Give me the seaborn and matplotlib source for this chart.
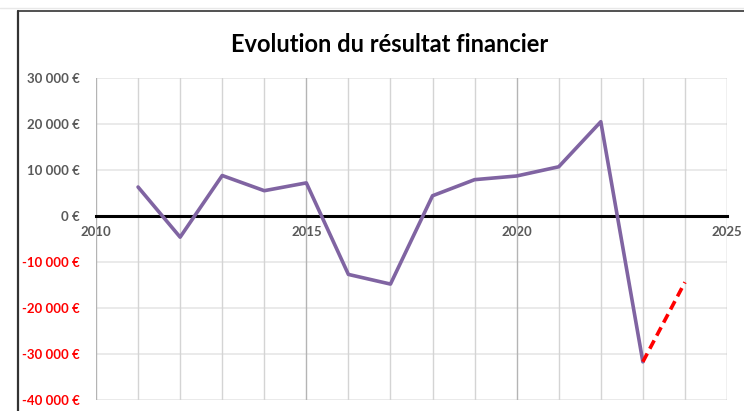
import matplotlib
matplotlib.use("Agg")
import matplotlib.pyplot as plt
import matplotlib.ticker as mticker
from matplotlib.lines import Line2D
import seaborn as sns
import pandas as pd

years = [2011, 2012, 2013, 2014, 2015, 2016, 2017, 2018, 2019, 2020, 2021, 2022, 2023]
resultat = [6300, -4600, 8800, 5500, 7200, -12700, -14800, 4400, 7900, 8700, 10700, 20500, -31700]
proj_years = [2023, 2024]
proj_values = [-31700, -14400]
title = "Evolution du résultat financier"
x_ticks = [2010, 2015, 2020, 2025]
y_ticks = [30000, 20000, 10000, 0, -10000, -20000, -30000, -40000]

sns.set_theme(style="white")
plt.rcParams['font.family'] = ['Lato', 'DejaVu Sans']

fig = plt.figure(figsize=(7.44, 4.11), dpi=100)
ax = fig.add_axes([96/744, 1-400/411, (727-96)/744, (400-78)/411])

df = pd.DataFrame({"annee": years, "valeur": resultat})
dfp = pd.DataFrame({"annee": proj_years, "valeur": proj_values})
sns.lineplot(data=df, x="annee", y="valeur", ax=ax, color="#8064A2", lw=2.6, zorder=4)
sns.lineplot(data=dfp, x="annee", y="valeur", ax=ax, color="#FF0000", lw=2.6,
             linestyle=(0, (2.6, 1.5)), zorder=5)

ax.set_xlim(2010, 2025)
ax.set_ylim(-40000, 30000)
ax.set_xlabel("")
ax.set_ylabel("")

# grid
ax.set_xticks(x_ticks)
ax.set_xticks(range(2010, 2026), minor=True)
ax.set_yticks(y_ticks)
ax.grid(False)
for yv in y_ticks:
    if yv != 0:
        ax.axhline(yv, color="#E6E6E6", lw=1.2, zorder=1)
for xv in range(2010, 2026):
    c = "#B4B4B4" if xv in x_ticks else "#D4D4D4"
    ax.axvline(xv, color=c, lw=1.0, zorder=1)

for s in ["top", "right", "left"]:
    ax.spines[s].set_visible(False)
ax.spines["bottom"].set_position(("data", 0))
ax.spines["bottom"].set_color("black")
ax.spines["bottom"].set_linewidth(2.2)
ax.spines["bottom"].set_zorder(3)

ax.tick_params(axis="x", which="both", length=0, pad=7, labelsize=9.5, labelcolor="#595959")
ax.tick_params(axis="y", length=0, pad=12, labelsize=9.5)
ax.xaxis.set_major_formatter(mticker.FuncFormatter(lambda v, p: f"{int(v)}"))
ax.yaxis.set_major_formatter(mticker.FuncFormatter(
    lambda v, p: (f"{int(v):,}".replace(",", " ") + " €")))
for lab in ax.get_xticklabels():
    lab.set_fontweight("bold")
for lab, yv in zip(ax.get_yticklabels(), y_ticks):
    lab.set_fontweight("bold")
    lab.set_color("#FF0000" if yv < 0 else "#595959")

fig.text(0.524, 1-45/411, title, ha="center", va="center", fontsize=17,
         fontweight="bold", color="#000000")

# chart frame (Excel style)
fig.add_artist(Line2D([18/744, 18/744], [0, 1-11/411], color="#333333", lw=1.6,
                      transform=fig.transFigure))
fig.add_artist(Line2D([18/744, 1], [1-11/411, 1-11/411], color="#333333", lw=1.2,
                      transform=fig.transFigure))
fig.add_artist(Line2D([0, 1], [1-8/411, 1-8/411], color="#E8E8E8", lw=1.0,
                      transform=fig.transFigure))

fig.savefig("out.png", dpi=100)
